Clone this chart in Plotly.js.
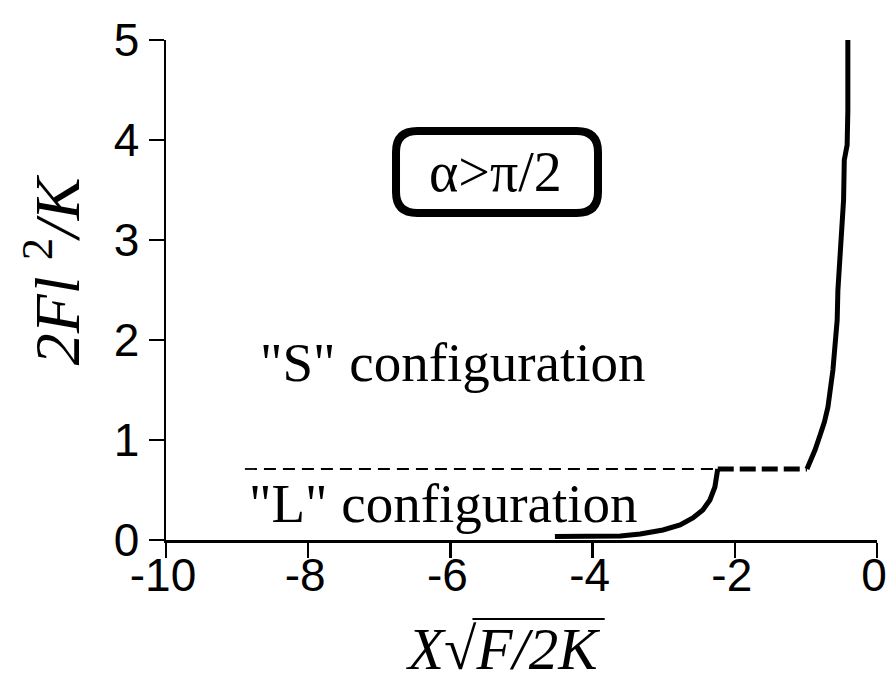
<!DOCTYPE html>
<html>
<head>
<meta charset="utf-8">
<script src="https://cdn.plot.ly/plotly-3.0.1.min.js"></script>
<style>html,body{margin:0;padding:0;background:#fff;}#chart{width:889px;height:681px;}</style>
</head>
<body>
<div id="chart"></div>
<script>
// Lower ("L") branch, solid thick
const lowerX = [-4.53, -4.0, -3.61, -3.33, -3.01, -2.77, -2.59, -2.45, -2.35, -2.28, -2.24];
const lowerY = [0.035, 0.035, 0.04, 0.06, 0.10, 0.15, 0.22, 0.30, 0.40, 0.53, 0.71];
// Plateau (thick dashed)
const plateauX = [-2.24, -0.985];
const plateauY = [0.71, 0.71];
// Upper ("S") branch, solid thick
const upperX = [-0.985, -0.93, -0.872, -0.80, -0.74, -0.69, -0.65, -0.62, -0.59, -0.56, -0.55, -0.52, -0.50, -0.47, -0.46, -0.42, -0.41, -0.41];
const upperY = [0.71, 0.80, 0.90, 1.05, 1.18, 1.33, 1.50, 1.70, 1.95, 2.20, 2.50, 2.80, 3.10, 3.40, 3.80, 3.95, 4.30, 5.00];
// Thin dashed transition line
const transX = [-8.89, -2.24];
const transY = [0.71, 0.71];

const xTicks = [-10, -8, -6, -4, -2, 0];
const yTicks = [0, 1, 2, 3, 4, 5];

const traces = [
  {x: transX, y: transY, mode: 'lines', line: {color: '#000', width: 1.8, dash: '12px,7px'}, hoverinfo: 'skip'},
  {x: lowerX, y: lowerY, mode: 'lines', line: {color: '#000', width: 5}},
  {x: plateauX, y: plateauY, mode: 'lines', line: {color: '#000', width: 5, dash: '16px,6px'}},
  {x: upperX, y: upperY, mode: 'lines', line: {color: '#000', width: 5}}
];

// rounded box around alpha label (data coords)
const bx0 = -6.765, bx1 = -3.924, by0 = 3.27, by1 = 4.09, rx = 0.30, ry = 0.21;
const boxPath = `M ${bx0+rx},${by1} L ${bx1-rx},${by1} Q ${bx1},${by1} ${bx1},${by1-ry} L ${bx1},${by0+ry} Q ${bx1},${by0} ${bx1-rx},${by0} L ${bx0+rx},${by0} Q ${bx0},${by0} ${bx0},${by0+ry} L ${bx0},${by1-ry} Q ${bx0},${by1} ${bx0+rx},${by1} Z`;

const serif = '"Liberation Serif", "Times New Roman", Times, serif';
const sans = '"Liberation Sans", Arial, Helvetica, sans-serif';

const axisCommon = {
  showgrid: false, zeroline: false, showline: true, linecolor: '#000', linewidth: 2.5,
  ticks: 'outside', ticklen: 15, tickwidth: 2.5, tickcolor: '#000',
  tickfont: {family: sans, size: 46, color: '#000'},
  ticklabeloverflow: 'allow'
};

const layout = {
  width: 889, height: 681,
  margin: {l: 166, r: 12, t: 40, b: 141},
  paper_bgcolor: '#fff', plot_bgcolor: '#fff',
  showlegend: false,
  xaxis: Object.assign({}, axisCommon, {
    range: [-10, 0], tickvals: xTicks, ticktext: xTicks.map(String),
    ticklabelstandoff: -22, ticklabelshift: -3
  }),
  yaxis: Object.assign({}, axisCommon, {
    range: [0, 5], tickvals: yTicks, ticktext: yTicks.map(String)
  }),
  shapes: [
    {type: 'path', path: boxPath, xref: 'x', yref: 'y', line: {color: '#000', width: 8}, fillcolor: 'rgba(0,0,0,0)'},
    {type: 'line', xref: 'paper', yref: 'paper', x0: 0.431, x1: 0.617, y0: -0.158, y1: -0.158, line: {color: '#000', width: 2}}
  ],
  annotations: [
    {x: -5.37, y: 3.68, xref: 'x', yref: 'y', text: 'α>π/2', showarrow: false, font: {family: serif, size: 56, color: '#000'}},
    {x: -5.97, y: 1.78, xref: 'x', yref: 'y', text: '"S" configuration', showarrow: false, font: {family: serif, size: 55, color: '#000'}},
    {x: -6.1, y: 0.37, xref: 'x', yref: 'y', text: '"L" configuration', showarrow: false, font: {family: serif, size: 55, color: '#000'}},
    {x: 0.474, y: -0.218, xref: 'paper', yref: 'paper', xanchor: 'center', yanchor: 'middle', text: '<i>X</i>√<i>F/2K</i>', showarrow: false, font: {family: serif, size: 59, color: '#000'}},
    {x: -0.160, y: 0.54, xref: 'paper', yref: 'paper', xanchor: 'center', yanchor: 'middle', text: '<i>2Fl</i> <sup>2</sup><i>/K</i>', textangle: -90, showarrow: false, font: {family: serif, size: 64, color: '#000'}}
  ]
};

Plotly.newPlot('chart', traces, layout, {displayModeBar: false, staticPlot: true});
</script>
</body>
</html>
